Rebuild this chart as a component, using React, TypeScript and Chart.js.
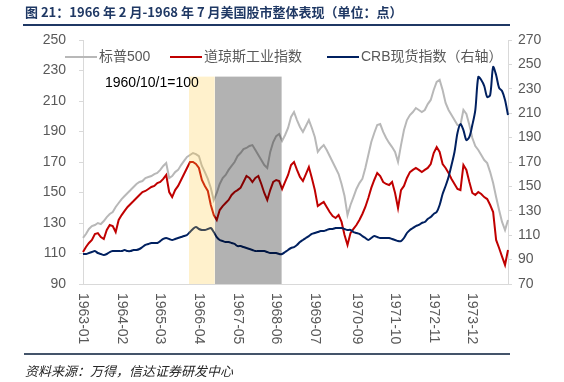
import React, { useEffect, useRef } from "react";
import { Chart, registerables } from "chart.js";
Chart.register(...registerables);

// Monthly categories 1963-01 .. 1974-12
const months: string[] = [];
for (let yr = 1963; yr <= 1974; yr++) {
  for (let m = 1; m <= 12; m++) months.push(`${yr}-${String(m).padStart(2, "0")}`);
}

const tickLabels = ["1963-01", "1964-02", "1965-03", "1966-04", "1967-05", "1968-06", "1969-07", "1970-09", "1971-10", "1972-11", "1973-12"];

const leftTicks = [90, 110, 130, 150, 170, 190, 210, 230, 250];
const rightTicks = [70, 90, 110, 130, 150, 170, 190, 210, 230, 250, 270];

const sp500 = [
  120.2, 122.8, 126.1, 128.0, 128.7, 130.0, 129.3, 131.3, 133.9, 135.9,
  137.2, 140.5, 143.1, 145.7, 147.7, 149.7, 151.6, 153.6, 155.6, 156.9,
  157.5, 159.5, 160.2, 160.8, 162.1, 162.8, 164.8, 167.4, 169.3, 159.5,
  160.8, 163.4, 164.8, 168.0, 170.7, 173.3, 174.6, 175.9, 175.2, 173.9,
  167.4, 163.4, 158.9, 153.0, 145.0, 149.7, 155.6, 159.5, 161.5, 164.8,
  167.4, 170.0, 173.9, 175.9, 178.5, 179.2, 180.5, 181.1, 177.9, 174.6,
  171.3, 168.0, 166.1, 176.6, 183.1, 187.0, 188.4, 183.8, 187.7, 192.3,
  199.5, 202.8, 197.5, 193.0, 189.7, 193.6, 197.5, 192.3, 186.4, 176.6,
  179.2, 181.1, 177.9, 173.9, 170.0, 166.1, 162.1, 155.6, 147.7, 135.2,
  141.8, 147.0, 152.3, 156.2, 158.9, 166.1, 174.6, 183.1, 189.0, 194.3,
  194.9, 189.7, 185.7, 182.5, 179.8, 176.6, 170.0, 181.1, 191.0, 197.5,
  200.8, 202.8, 205.4, 204.1, 202.8, 204.1, 208.0, 210.7, 217.2, 222.5,
  223.8, 217.2, 208.7, 204.1, 200.8, 197.5, 194.3, 194.3, 204.1, 201.5,
  194.3, 185.7, 180.5, 177.9, 174.6, 171.3, 169.3, 163.4, 156.2, 147.0,
  138.5, 130.7, 125.4, 132.0,
];

const dowJones = [
  111.0, 114.3, 116.9, 118.9, 122.8, 123.4, 120.8, 119.5, 125.4, 128.7,
  128.0, 124.1, 132.0, 135.2, 137.9, 140.5, 142.5, 144.4, 146.4, 148.4,
  150.3, 151.0, 152.3, 153.6, 154.3, 156.2, 156.9, 158.9, 161.5, 150.3,
  147.0, 151.6, 154.3, 158.2, 162.1, 166.1, 170.0, 170.0, 168.7, 166.1,
  158.2, 154.3, 151.0, 141.8, 135.2, 132.0, 138.5, 141.1, 143.1, 145.1,
  148.4, 150.3, 151.6, 153.0, 156.9, 160.8, 159.5, 156.9, 159.5, 160.8,
  155.6, 149.7, 145.1, 151.6, 156.9, 158.2, 157.5, 152.3, 156.9, 161.5,
  168.0, 170.0, 164.8, 160.2, 157.5, 162.1, 166.7, 159.5, 151.6, 141.1,
  142.5, 143.8, 140.5, 137.2, 134.6, 133.3, 135.2, 130.7, 122.1, 115.6,
  123.4, 126.1, 128.7, 132.0, 135.9, 140.5, 146.4, 153.0, 158.2, 162.8,
  160.8, 156.9, 155.6, 154.9, 156.9, 149.7, 139.8, 151.6, 154.3, 159.5,
  163.4, 164.8, 166.1, 164.8, 163.4, 164.8, 166.1, 168.7, 175.9, 179.8,
  176.6, 168.7, 166.1, 162.8, 158.9, 155.6, 152.3, 151.6, 168.0, 164.8,
  156.9, 149.7, 148.4, 150.3, 149.0, 147.0, 145.7, 141.8, 137.2, 118.9,
  113.6, 108.0, 102.5, 112.3,
];

const crb = [
  94.6, 94.6, 95.4, 96.2, 97.0, 95.4, 94.6, 93.8, 94.6, 96.2,
  97.0, 97.0, 97.0, 97.0, 97.9, 97.0, 97.0, 97.9, 97.9, 98.7,
  100.3, 102.0, 102.8, 103.6, 103.6, 103.6, 105.2, 106.9, 107.7, 106.9,
  106.1, 106.9, 107.7, 108.5, 109.3, 110.2, 112.6, 115.1, 116.7, 115.1,
  114.3, 114.3, 115.1, 115.9, 112.6, 108.5, 106.1, 105.2, 104.4, 104.4,
  103.6, 102.8, 101.1, 101.1, 100.3, 99.5, 98.7, 97.9, 97.0, 97.0,
  97.0, 97.0, 96.2, 95.4, 95.4, 95.4, 94.6, 94.6, 96.2, 97.9,
  99.5, 100.3, 102.0, 104.4, 106.1, 107.7, 109.3, 111.0, 111.8, 112.6,
  113.4, 113.4, 114.3, 115.1, 115.1, 115.9, 115.9, 115.9, 115.1, 114.3,
  114.3, 112.6, 111.8, 111.0, 109.3, 107.7, 106.1, 107.7, 109.3, 108.5,
  107.7, 107.7, 107.7, 107.7, 106.9, 106.1, 105.2, 105.2, 107.7, 111.8,
  114.3, 115.9, 117.5, 118.4, 120.0, 120.8, 123.3, 124.9, 127.4, 129.0,
  134.8, 143.8, 150.3, 157.7, 167.5, 178.2, 193.8, 201.1, 196.2, 188.0,
  190.5, 200.3, 212.6, 239.7, 237.2, 232.3, 223.3, 224.9, 247.9, 241.3,
  230.7, 228.2, 220.8, 208.5,
];

// Highlighted periods (start, end dates) and the left-axis level of their top edge
const yellowBand = ["1965-12-21", "1966-09-10"];
const grayBand = ["1966-09-13", "1968-07-26"];
const bandTop = 226;

const FONT = "'Liberation Sans', 'Noto Sans CJK SC', sans-serif";

function dateIndex(d: string): number {
  const [y, m, day] = d.split("-").map(Number);
  return (y - 1963) * 12 + (m - 1) + ((day || 1) - 1) / 30;
}

const overlayPlugin = {
  id: "overlay",
  afterDatasetsDraw(chart: any) {
    const { ctx, chartArea, scales } = chart;
    const xs = scales.x;
    const ys = scales.y;
    const top = ys.getPixelForValue(bandTop);
    const bottom = chartArea.bottom;
    const draw = (band: string[], color: string) => {
      const x0 = xs.getPixelForValue(dateIndex(band[0]));
      const x1 = xs.getPixelForValue(dateIndex(band[1]));
      ctx.fillStyle = color;
      ctx.fillRect(x0, top, x1 - x0, bottom - top);
    };
    ctx.save();
    draw(yellowBand, "rgba(255,200,50,0.25)");
    draw(grayBand, "rgba(0,0,0,0.30)");
    ctx.restore();
  },
  afterDraw(chart: any) {
    const { ctx, chartArea, scales } = chart;
    ctx.save();
    // x-axis labels, rotated clockwise
    ctx.font = `14px ${FONT}`;
    ctx.fillStyle = "#595959";
    ctx.textAlign = "left";
    ctx.textBaseline = "middle";
    tickLabels.forEach((l) => {
      const px = scales.x.getPixelForValue(months.indexOf(l));
      ctx.save();
      ctx.translate(px, chartArea.bottom + 9);
      ctx.rotate(Math.PI / 2);
      ctx.fillText(l, 0, 0);
      ctx.restore();
    });
    // legend
    const ly = 57;
    const items = [
      { x: 65, label: "标普500", color: "#B8B8B8" },
      { x: 170, label: "道琼斯工业指数", color: "#C00000" },
      { x: 327, label: "CRB现货指数（右轴）", color: "#002060" },
    ];
    items.forEach((it) => {
      ctx.strokeStyle = it.color;
      ctx.lineWidth = 2;
      ctx.beginPath();
      ctx.moveTo(it.x, ly);
      ctx.lineTo(it.x + 32, ly);
      ctx.stroke();
      ctx.fillStyle = "#595959";
      ctx.fillText(it.label, it.x + 34, ly);
    });
    // annotation
    ctx.fillStyle = "#000000";
    ctx.fillText("1960/10/1=100", chartArea.left + 22, 83);
    ctx.restore();
  },
};

export default function App() {
  const ref = useRef<HTMLCanvasElement | null>(null);
  useEffect(() => {
    document.body.style.margin = "0";
    if (!ref.current) return;
    Chart.defaults.font.family = FONT;
    Chart.defaults.font.size = 14;
    Chart.defaults.color = "#595959";
    const chart = new Chart(ref.current, {
      type: "line",
      data: {
        labels: months,
        datasets: [
          { label: "标普500", data: sp500, borderColor: "#B8B8B8", borderWidth: 2, pointRadius: 0, yAxisID: "y", order: 3 },
          { label: "道琼斯工业指数", data: dowJones, borderColor: "#C00000", borderWidth: 2, pointRadius: 0, yAxisID: "y", order: 2 },
          { label: "CRB现货指数（右轴）", data: crb, borderColor: "#002060", borderWidth: 2, pointRadius: 0, yAxisID: "y1", order: 1, tension: 0.3 },
        ],
      },
      options: {
        animation: false,
        responsive: false,
        layout: { padding: { top: 40, left: 0, right: 0, bottom: 0 } },
        plugins: { legend: { display: false }, tooltip: { enabled: false } },
        scales: {
          x: {
            type: "category",
            offset: false,
            grid: { display: false },
            border: { display: true, color: "#D9D9D9" },
            ticks: { display: false },
            afterFit: (s: any) => { s.height = 98; },
          },
          y: {
            position: "left",
            min: 90,
            max: 250,
            afterBuildTicks: (s: any) => { s.ticks = leftTicks.map((v) => ({ value: v })); },
            ticks: { padding: 13, color: "#595959", font: { size: 14 } },
            grid: { display: true, drawOnChartArea: false, drawTicks: true, tickLength: 4, color: "#D9D9D9" },
            border: { display: true, color: "#D9D9D9" },
            afterFit: (s: any) => { s.width = 83; },
          },
          y1: {
            position: "right",
            min: 70,
            max: 270,
            afterBuildTicks: (s: any) => { s.ticks = rightTicks.map((v) => ({ value: v })); },
            ticks: { padding: 6, color: "#595959", font: { size: 14 } },
            grid: { display: true, drawOnChartArea: false, drawTicks: true, tickLength: 4, color: "#D9D9D9" },
            border: { display: true, color: "#D9D9D9" },
            afterFit: (s: any) => { s.width = 56; },
          },
        },
      },
      plugins: [overlayPlugin],
    });
    return () => chart.destroy();
  }, []);

  return (
    <div style={{ position: "relative", width: 564, height: 382, background: "#fff", overflow: "hidden" }}>
      <canvas ref={ref} width={564} height={382} style={{ position: "absolute", left: 0, top: 0 }} />
      <div style={{ position: "absolute", left: 25, top: 3, fontFamily: "'Noto Sans CJK SC', sans-serif", fontWeight: 700, fontSize: 13, lineHeight: "18px", color: "#1F3864", whiteSpace: "nowrap" }}>
        图 21：1966 年 2 月-1968 年 7 月美国股市整体表现（单位：点）
      </div>
      <div style={{ position: "absolute", left: 23, top: 24, width: 487, height: 2, background: "#1F3864" }} />
      <div style={{ position: "absolute", left: 24, top: 353, width: 486, height: 2, background: "#44546A" }} />
      <div style={{ position: "absolute", left: 25, top: 362, fontFamily: "'Noto Sans CJK SC', sans-serif", fontStyle: "italic", fontSize: 13, lineHeight: "18px", color: "#262626", whiteSpace: "nowrap" }}>
        资料来源：万得，信达证券研发中心
      </div>
    </div>
  );
}
